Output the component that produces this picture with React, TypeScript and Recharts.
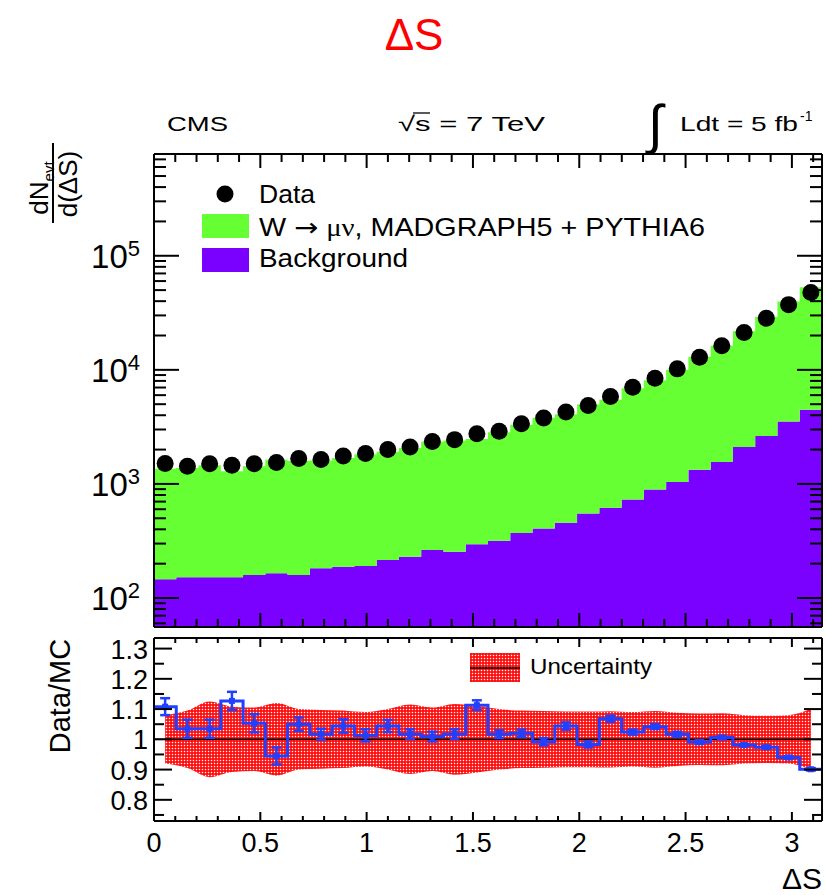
import React from 'react';
import { ComposedChart, Area, Line, Scatter, XAxis, YAxis, ErrorBar, ReferenceLine } from 'recharts';

const FONT = '"Liberation Sans", Arial, Helvetica, sans-serif';

// ---------- data ----------
const X_MAX = Math.PI;
const N_BINS = 30;

const dataCounts = [1510, 1430, 1505, 1455, 1505, 1540, 1670, 1635, 1760, 1845, 2000, 2105, 2360, 2445, 2755, 2890, 3375, 3780, 4265, 4880, 5845, 7050, 8450, 10200, 12900, 16300, 21300, 28300, 37300, 47700];
const mcTotal = [1360, 1380, 1455, 1290, 1430, 1630, 1590, 1605, 1685, 1820, 1915, 2070, 2340, 2405, 2475, 2840, 3305, 3810, 4085, 4960, 5470, 6885, 8110, 10030, 13030, 16230, 21750, 29060, 39650, 52970];
const background = [146, 152, 152, 152, 159, 165, 159, 182, 188, 191, 215, 230, 263, 254, 296, 317, 372, 406, 456, 550, 617, 729, 892, 1040, 1333, 1556, 2107, 2630, 3532, 4467];

const ratio = [1.108, 1.035, 1.035, 1.127, 1.053, 0.945, 1.05, 1.017, 1.044, 1.013, 1.044, 1.017, 1.009, 1.017, 1.113, 1.017, 1.02, 0.992, 1.044, 0.983, 1.068, 1.024, 1.042, 1.017, 0.991, 1.006, 0.981, 0.974, 0.94, 0.901];
const ratioErr = [0.028, 0.03, 0.03, 0.03, 0.03, 0.028, 0.022, 0.018, 0.022, 0.02, 0.02, 0.016, 0.016, 0.016, 0.016, 0.013, 0.012, 0.012, 0.012, 0.01, 0.01, 0.008, 0.008, 0.008, 0.006, 0.005, 0.004, 0.004, 0.004, 0.004];
const mcUncertainty = [0.08, 0.095, 0.125, 0.108, 0.105, 0.12, 0.1, 0.097, 0.095, 0.09, 0.1, 0.115, 0.105, 0.117, 0.11, 0.1, 0.095, 0.094, 0.092, 0.092, 0.093, 0.09, 0.094, 0.088, 0.085, 0.086, 0.08, 0.078, 0.08, 0.1];

const xTicks = [0, 0.1, 0.2, 0.3, 0.4, 0.5, 0.6, 0.7, 0.8, 0.9, 1, 1.1, 1.2, 1.3, 1.4, 1.5, 1.6, 1.7, 1.8, 1.9, 2, 2.1, 2.2, 2.3, 2.4, 2.5, 2.6, 2.7, 2.8, 2.9, 3, 3.1];
const logTicks = [60, 70, 80, 90, 100, 200, 300, 400, 500, 600, 700, 800, 900, 1000, 2000, 3000, 4000, 5000, 6000, 7000, 8000, 9000, 10000, 20000, 30000, 40000, 50000, 60000, 70000, 80000, 90000, 100000, 200000, 300000, 400000, 500000, 600000, 700000];
const ratioTicks = [0.75, 0.8, 0.85, 0.9, 0.95, 1, 1.05, 1.1, 1.15, 1.2, 1.25, 1.3];

const Y_LOG_MIN = 55.7;
const Y_LOG_MAX = 780000;
const RATIO_MIN = 0.73;
const RATIO_MAX = 1.335;

// ---------- derived tables ----------
const binW = X_MAX / N_BINS;
const clampIdx = (i: number) => Math.min(i, N_BINS - 1);
const isMult = (v: number, step: number) => Math.abs(v / step - Math.round(v / step)) < 1e-6;
const isDecade = (v: number) => isMult(Math.log10(v), 1);

const topData = Array.from({ length: N_BINS + 1 }, (_, i) => ({
  x: i * binW,
  bkg: [Y_LOG_MIN, background[clampIdx(i)]],
  mc: [background[clampIdx(i)], mcTotal[clampIdx(i)]],
}));
const dataPoints = dataCounts.map((v, i) => ({ x: (i + 0.5) * binW, y: v }));

const ratioRows: any[] = [];
for (let i = 0; i <= N_BINS; i++) {
  ratioRows.push({ x: i * binW, ratio: ratio[clampIdx(i)] });
  if (i < N_BINS) {
    ratioRows.push({ x: (i + 0.5) * binW, band: [1 - mcUncertainty[i], 1 + mcUncertainty[i]] });
  }
}
const ratioPoints = ratio.map((r, i) => ({ x: (i + 0.5) * binW, y: r, err: ratioErr[i] }));

// tick marks along the four frame edges, placed through the chart scales
const frameTicks = (yTicks: number[], yMin: number, yMax: number, yMajor: (v: number) => boolean) => [
  ...xTicks.map((v) => ({ x: v, y: yMin, side: 'b', major: isMult(v, 0.5) })),
  ...xTicks.map((v) => ({ x: v, y: yMax, side: 't', major: isMult(v, 0.5) })),
  ...yTicks.map((v) => ({ x: 0, y: v, side: 'l', major: yMajor(v) })),
  ...yTicks.map((v) => ({ x: X_MAX, y: v, side: 'r', major: yMajor(v) })),
];
const topFrameTicks = frameTicks(logTicks, Y_LOG_MIN, Y_LOG_MAX, isDecade);
const ratioFrameTicks = frameTicks(ratioTicks, RATIO_MIN, RATIO_MAX, (v) => isMult(v, 0.1));

const makeTickShape = (xMajor: number, xMinor: number, yMajor: number, yMinor: number) => (p: any) => {
  const cx = Number(p.cx);
  const cy = Number(p.cy);
  const t = p.payload || {};
  let x2 = cx;
  let y2 = cy;
  if (t.side === 'b') y2 = cy - (t.major ? xMajor : xMinor);
  if (t.side === 't') y2 = cy + (t.major ? xMajor : xMinor);
  if (t.side === 'l') x2 = cx + (t.major ? yMajor : yMinor);
  if (t.side === 'r') x2 = cx - (t.major ? yMajor : yMinor);
  return <line x1={cx} y1={cy} x2={x2} y2={y2} stroke="#000" strokeWidth={2} />;
};

// ---------- tick labels ----------
const emptyTick = () => <g />;

const xLabelTick = (props: any) => {
  const x = Number(props.x);
  const y = Number(props.y);
  const v = Number(props.payload.value);
  if (!isMult(v, 0.5)) return <g />;
  return (
    <text x={x} y={y + 31} textAnchor="middle" fontSize={27} fontFamily={FONT} fill="#000">
      {String(v)}
    </text>
  );
};

const logLabelTick = (props: any) => {
  const x = Number(props.x);
  const y = Number(props.y);
  const v = Number(props.payload.value);
  if (!isDecade(v)) return <g />;
  return (
    <text x={x - 14} y={y + 12} textAnchor="end" fontSize={33} fontFamily={FONT} fill="#000">
      10
      <tspan dy={-12} fontSize={22}>
        {String(Math.round(Math.log10(v)))}
      </tspan>
    </text>
  );
};

const ratioLabelTick = (props: any) => {
  const x = Number(props.x);
  const y = Number(props.y);
  const v = Number(props.payload.value);
  if (!isMult(v, 0.1)) return <g />;
  return (
    <text x={x - 6} y={y + 10} textAnchor="end" fontSize={27} fontFamily={FONT} fill="#000">
      {isMult(v, 1) ? String(Math.round(v)) : v.toFixed(1)}
    </text>
  );
};

const AXIS_LINE = { stroke: '#000', strokeWidth: 2 };
const GREEN = '#66ff33';
const PURPLE = '#7a00ff';
const BLUE = '#2040ff';

const DotPattern = ({ id }: { id: string }) => (
  <defs>
    <pattern id={id} width={3} height={3} patternUnits="userSpaceOnUse">
      <rect width={3} height={3} fill="#ff1010" />
      <circle cx={1.5} cy={1.5} r={0.75} fill="#ffffff" />
    </pattern>
  </defs>
);

const TOP_MARGIN = { top: 153, right: 0, bottom: 0, left: 0 };
const RATIO_MARGIN = { top: 7, right: 0, bottom: 0, left: 0 };

export default function App() {
  return (
    <div style={{ position: 'fixed', left: 0, top: 0, width: 826, height: 895, background: '#fff' }}>
      {/* texts and legends */}
      <svg width={826} height={895} style={{ position: 'absolute', left: 0, top: 0 }} fontFamily={FONT}>
        <DotPattern id="uncDotsLegend" />
        <text x={414} y={50} textAnchor="middle" fontSize={44} fill="#ff0000">ΔS</text>

        <text x={167} y={131} fontSize={21} fill="#000" textLength={61} lengthAdjust="spacingAndGlyphs">CMS</text>
        <text x={398} y={131} fontSize={21} fill="#000" textLength={147} lengthAdjust="spacingAndGlyphs">√s = 7 TeV</text>
        <line x1={413} x2={430} y1={113} y2={113} stroke="#000" strokeWidth={1.3} />
        <text x={648} y={143} fontSize={54} fill="#000">∫</text>
        <text x={680} y={131} fontSize={21} fill="#000" textLength={118} lengthAdjust="spacingAndGlyphs">Ldt = 5 fb</text>
        <text x={800} y={121} fontSize={14} fill="#000">-1</text>

        <text transform="translate(48,188) rotate(-90)" textAnchor="middle" fontSize={26} fill="#000">
          dN<tspan dy={6} fontSize={15}>evt</tspan>
        </text>
        <line x1={53} x2={53} y1={143} y2={223} stroke="#000" strokeWidth={2} />
        <text transform="translate(77,184) rotate(-90)" textAnchor="middle" fontSize={26} fill="#000">d(ΔS)</text>

        <text transform="translate(70,696) rotate(-90)" textAnchor="middle" fontSize={29} fill="#000">Data/MC</text>

        <text x={822} y={889} textAnchor="end" fontSize={30} fill="#000">ΔS</text>

        <circle cx={225} cy={194} r={8.5} fill="#000" />
        <text x={259} y={203} fontSize={25} fill="#000" textLength={56} lengthAdjust="spacingAndGlyphs">Data</text>
        <rect x={202} y={214} width={47} height={24} fill={GREEN} />
        <text x={259} y={236} fontSize={25} fill="#000" textLength={446} lengthAdjust="spacingAndGlyphs">
          W <tspan fontFamily="DejaVu Sans">→</tspan> <tspan fontFamily='"Liberation Serif", serif'>μν</tspan>, MADGRAPH5 + PYTHIA6
        </text>
        <rect x={202} y={248} width={47} height={24} fill={PURPLE} />
        <text x={259} y={267} fontSize={25} fill="#000" textLength={149} lengthAdjust="spacingAndGlyphs">Background</text>

        <rect x={470} y={653} width={50} height={29} fill="url(#uncDotsLegend)" />
        <line x1={470} x2={520} y1={668} y2={668} stroke="#000" strokeWidth={1.5} />
        <text x={530} y={674} fontSize={22} fill="#000" textLength={122} lengthAdjust="spacingAndGlyphs">Uncertainty</text>
      </svg>

      {/* main distribution */}
      <div style={{ position: 'absolute', left: 0, top: 0 }}>
        <ComposedChart width={826} height={640} data={topData} margin={TOP_MARGIN}>
          <XAxis xAxisId="b" dataKey="x" type="number" domain={[0, X_MAX]} allowDataOverflow ticks={xTicks} interval={0}
            height={13} tickSize={0} tickMargin={0} tickLine={false} axisLine={AXIS_LINE} tick={emptyTick} />
          <XAxis xAxisId="t" orientation="top" dataKey="x" type="number" domain={[0, X_MAX]} allowDataOverflow ticks={xTicks} interval={0}
            height={1} tickSize={0} tickMargin={0} tickLine={false} axisLine={AXIS_LINE} tick={emptyTick} />
          <YAxis yAxisId="l" dataKey="y" scale="log" type="number" domain={[Y_LOG_MIN, Y_LOG_MAX]} allowDataOverflow ticks={logTicks} interval={0}
            width={154} tickSize={0} tickMargin={0} tickLine={false} axisLine={AXIS_LINE} tick={logLabelTick} />
          <YAxis yAxisId="r" orientation="right" dataKey="y" scale="log" type="number" domain={[Y_LOG_MIN, Y_LOG_MAX]} allowDataOverflow ticks={logTicks} interval={0}
            width={4} tickSize={0} tickMargin={0} tickLine={false} axisLine={AXIS_LINE} tick={emptyTick} />
          <Area xAxisId="b" yAxisId="l" type="stepAfter" dataKey="bkg" fill={PURPLE} fillOpacity={1} stroke="none" isAnimationActive={false} dot={false} activeDot={false} />
          <Area xAxisId="b" yAxisId="l" type="stepAfter" dataKey="mc" fill={GREEN} fillOpacity={1} stroke="none" isAnimationActive={false} dot={false} activeDot={false} />
          <Scatter xAxisId="b" yAxisId="l" data={dataPoints} isAnimationActive={false}
            shape={(p: any) => <circle cx={p.cx} cy={p.cy} r={8.5} fill="#000" />} />
          <Scatter xAxisId="b" yAxisId="l" data={topFrameTicks} isAnimationActive={false} shape={makeTickShape(14, 8, 25, 12)} />
        </ComposedChart>
      </div>

      {/* ratio panel */}
      <div style={{ position: 'absolute', left: 0, top: 630 }}>
        <ComposedChart width={826} height={265} data={ratioRows} margin={RATIO_MARGIN}>
          <DotPattern id="uncDots" />
          <XAxis xAxisId="b" dataKey="x" type="number" domain={[0, X_MAX]} allowDataOverflow ticks={xTicks} interval={0}
            height={74} tickSize={0} tickMargin={0} tickLine={false} axisLine={AXIS_LINE} tick={xLabelTick} />
          <XAxis xAxisId="t" orientation="top" dataKey="x" type="number" domain={[0, X_MAX]} allowDataOverflow ticks={xTicks} interval={0}
            height={1} tickSize={0} tickMargin={0} tickLine={false} axisLine={AXIS_LINE} tick={emptyTick} />
          <YAxis yAxisId="l" dataKey="y" type="number" domain={[RATIO_MIN, RATIO_MAX]} allowDataOverflow ticks={ratioTicks} interval={0}
            width={154} tickSize={0} tickMargin={0} tickLine={false} axisLine={AXIS_LINE} tick={ratioLabelTick} />
          <YAxis yAxisId="r" orientation="right" dataKey="y" type="number" domain={[RATIO_MIN, RATIO_MAX]} allowDataOverflow ticks={ratioTicks} interval={0}
            width={4} tickSize={0} tickMargin={0} tickLine={false} axisLine={AXIS_LINE} tick={emptyTick} />
          <Area xAxisId="b" yAxisId="l" type="monotone" dataKey="band" connectNulls fill="url(#uncDots)" fillOpacity={1} stroke="none"
            isAnimationActive={false} dot={false} activeDot={false} />
          <ReferenceLine xAxisId="b" yAxisId="l" y={1} stroke="#000" strokeWidth={1.5} />
          <Line xAxisId="b" yAxisId="l" type="stepAfter" dataKey="ratio" connectNulls stroke={BLUE} strokeWidth={3}
            isAnimationActive={false} dot={false} activeDot={false} />
          <Scatter xAxisId="b" yAxisId="l" data={ratioPoints} isAnimationActive={false}
            shape={(p: any) => <rect x={p.cx - 3} y={p.cy - 3} width={6} height={6} fill={BLUE} />}>
            <ErrorBar dataKey="err" direction="y" width={5} stroke={BLUE} strokeWidth={2.5} />
          </Scatter>
          <Scatter xAxisId="b" yAxisId="l" data={ratioFrameTicks} isAnimationActive={false} shape={makeTickShape(9, 5, 18, 10)} />
        </ComposedChart>
      </div>
    </div>
  );
}
